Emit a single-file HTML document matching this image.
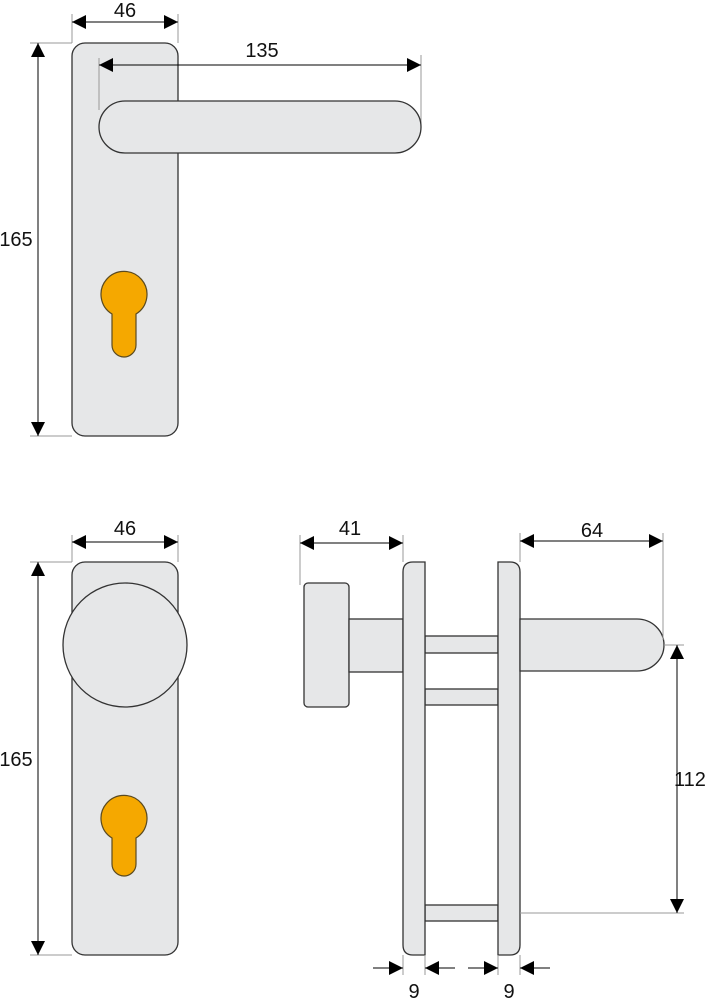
<!DOCTYPE html>
<html><head><meta charset="utf-8"><style>html,body{margin:0;padding:0;background:#fff}svg{display:block}</style></head><body>
<svg width="707" height="1000" viewBox="0 0 707 1000" xmlns="http://www.w3.org/2000/svg" font-family="Liberation Sans, sans-serif">
<defs>
<marker id="a" viewBox="0 0 10 10" refX="10" refY="5" markerWidth="16" markerHeight="14" markerUnits="userSpaceOnUse" orient="auto-start-reverse"><path d="M0,0L10,5L0,10z" fill="#000"/></marker>
</defs>
<g fill="#e6e7e8" stroke="#333" stroke-width="1.3">
<rect x="72" y="43" width="106" height="393" rx="13"/>
<rect x="72" y="562" width="106" height="393" rx="13"/>
<circle cx="125" cy="645" r="62"/>
<rect x="304" y="583" width="45" height="124" rx="4"/>
<rect x="349" y="619" width="54" height="53"/>
<rect x="425" y="636" width="73" height="17"/>
<rect x="425" y="689" width="73" height="16"/>
<rect x="425" y="905" width="73" height="16"/>
<path d="M413,562H425V955H413Q403,955 403,945V572Q403,562 413,562Z"/>
<path d="M498,562H510Q520,562 520,572V945Q520,955 510,955H498Z"/>
<path d="M520,619H637A27,26 0 0 1 637,671H520Z"/>
</g>
<g fill="#f5a800" stroke="#5a4a20" stroke-width="1.2">
<path d="M112,314A23,23 0 1 1 136,314V345A12,12 0 0 1 112,345Z"/>
<path d="M112,838A23,23 0 1 1 136,838V864A12,12 0 0 1 112,864Z"/>
</g>
<g stroke="#999" stroke-width="1" fill="none">
<line x1="72" y1="14" x2="72" y2="43"/><line x1="178" y1="14" x2="178" y2="43"/>
<line x1="30" y1="43" x2="72" y2="43"/><line x1="30" y1="436" x2="72" y2="436"/>
<line x1="99" y1="58" x2="99" y2="110"/><line x1="421" y1="55" x2="421" y2="127"/>
<line x1="72" y1="535" x2="72" y2="562"/><line x1="178" y1="535" x2="178" y2="562"/>
<line x1="30" y1="562" x2="72" y2="562"/><line x1="30" y1="955" x2="72" y2="955"/>
<line x1="300" y1="535" x2="300" y2="585"/><line x1="403" y1="535" x2="403" y2="562"/>
<line x1="520" y1="533" x2="520" y2="562"/><line x1="663" y1="533" x2="663" y2="640"/>
<line x1="664" y1="645" x2="684" y2="645"/><line x1="520" y1="913" x2="684" y2="913"/>
<line x1="403" y1="955" x2="403" y2="975"/><line x1="425" y1="955" x2="425" y2="975"/>
<line x1="498" y1="955" x2="498" y2="975"/><line x1="520" y1="955" x2="520" y2="975"/>
</g>
<rect x="99" y="101" width="322" height="52" rx="26" fill="#e6e7e8" stroke="#333" stroke-width="1.3"/>
<g stroke="#000" stroke-width="1" fill="none">
<line x1="72" y1="22" x2="178" y2="22" marker-start="url(#a)" marker-end="url(#a)"/>
<line x1="38" y1="43" x2="38" y2="436" marker-start="url(#a)" marker-end="url(#a)"/>
<line x1="99" y1="65" x2="421" y2="65" marker-start="url(#a)" marker-end="url(#a)"/>
<line x1="72" y1="542" x2="178" y2="542" marker-start="url(#a)" marker-end="url(#a)"/>
<line x1="38" y1="562" x2="38" y2="955" marker-start="url(#a)" marker-end="url(#a)"/>
<line x1="300" y1="543" x2="403" y2="543" marker-start="url(#a)" marker-end="url(#a)"/>
<line x1="520" y1="541" x2="663" y2="541" marker-start="url(#a)" marker-end="url(#a)"/>
<line x1="677" y1="645" x2="677" y2="913" marker-start="url(#a)" marker-end="url(#a)"/>
<line x1="373" y1="968" x2="403" y2="968" marker-end="url(#a)"/>
<line x1="455" y1="968" x2="425" y2="968" marker-end="url(#a)"/>
<line x1="468" y1="968" x2="498" y2="968" marker-end="url(#a)"/>
<line x1="550" y1="968" x2="520" y2="968" marker-end="url(#a)"/>
</g>
<g font-size="20" fill="#111" text-anchor="middle">
<text x="125" y="17">46</text>
<text x="262" y="57">135</text>
<text x="16" y="246">165</text>
<text x="125" y="535">46</text>
<text x="16" y="766">165</text>
<text x="350" y="535">41</text>
<text x="592" y="537">64</text>
<text x="690" y="786">112</text>
<text x="414" y="998">9</text>
<text x="509" y="998">9</text>
</g>
</svg>
</body></html>
